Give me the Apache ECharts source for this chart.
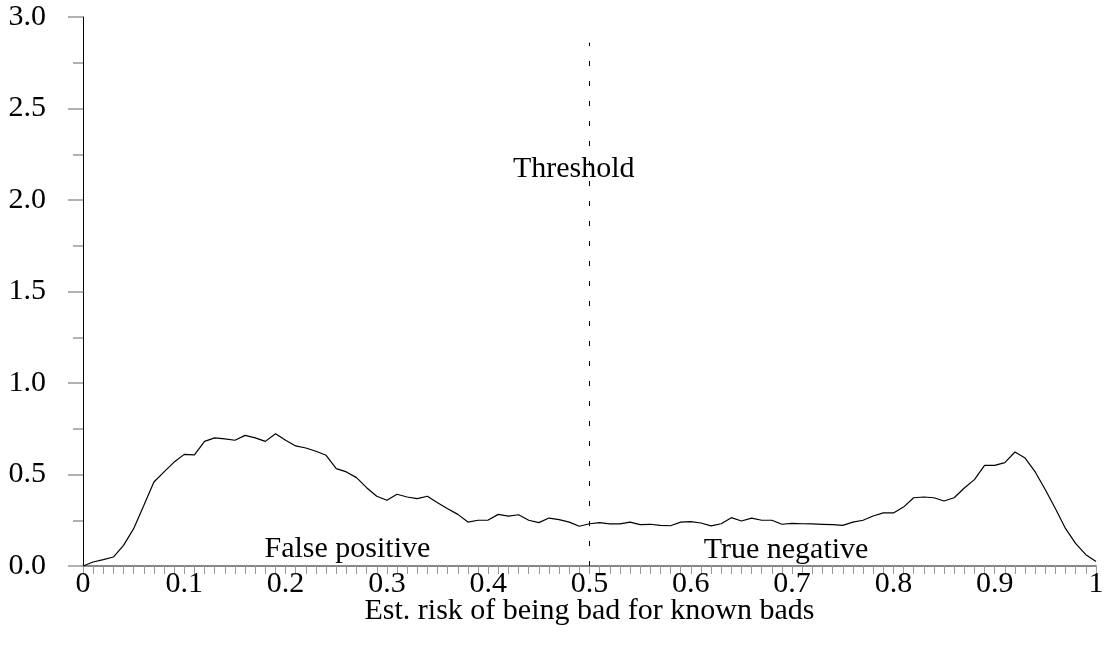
<!DOCTYPE html>
<html>
<head>
<meta charset="utf-8">
<script src="https://cdn.jsdelivr.net/npm/echarts@6/dist/echarts.min.js"></script>
<style>
    html, body { margin: 0; padding: 0; background: #fff; }
    #echarts-risk-chart { width: 1108px; height: 650px; }
</style>
</head>
<body>
<div id="echarts-risk-chart"></div>
<script>
var riskX = [0, 0.01, 0.02, 0.03, 0.04, 0.05, 0.06, 0.07, 0.08, 0.09,
    0.1, 0.11, 0.12, 0.13, 0.14, 0.15, 0.16, 0.17, 0.18, 0.19,
    0.2, 0.21, 0.22, 0.23, 0.24, 0.25, 0.26, 0.27, 0.28, 0.29,
    0.3, 0.31, 0.32, 0.33, 0.34, 0.35, 0.36, 0.37, 0.38, 0.39,
    0.4, 0.41, 0.42, 0.43, 0.44, 0.45, 0.46, 0.47, 0.48, 0.49,
    0.5, 0.51, 0.52, 0.53, 0.54, 0.55, 0.56, 0.57, 0.58, 0.59,
    0.6, 0.61, 0.62, 0.63, 0.64, 0.65, 0.66, 0.67, 0.68, 0.69,
    0.7, 0.71, 0.72, 0.73, 0.74, 0.75, 0.76, 0.77, 0.78, 0.79,
    0.8, 0.81, 0.82, 0.83, 0.84, 0.85, 0.86, 0.87, 0.88, 0.89,
    0.9, 0.91, 0.92, 0.93, 0.94, 0.95, 0.96, 0.97, 0.98, 0.99, 1];

var density = [0, 0.022, 0.035, 0.049, 0.113, 0.204, 0.33, 0.459, 0.514, 0.568,
    0.61, 0.607, 0.681, 0.70, 0.695, 0.687, 0.714, 0.70, 0.681, 0.723,
    0.687, 0.656, 0.645, 0.627, 0.605, 0.532, 0.514, 0.483, 0.428, 0.381,
    0.359, 0.392, 0.377, 0.368, 0.381, 0.346, 0.313, 0.282, 0.240, 0.25,
    0.251, 0.282, 0.273, 0.28, 0.25, 0.237, 0.262, 0.253, 0.240, 0.217,
    0.231, 0.237, 0.23, 0.23, 0.24, 0.226, 0.228, 0.222, 0.22, 0.24,
    0.242, 0.235, 0.219, 0.231, 0.264, 0.246, 0.262, 0.25, 0.25, 0.228,
    0.233, 0.231, 0.23, 0.228, 0.226, 0.222, 0.24, 0.25, 0.273, 0.29,
    0.29, 0.322, 0.373, 0.377, 0.373, 0.355, 0.373, 0.426, 0.472, 0.55,
    0.55, 0.565, 0.623, 0.59, 0.514, 0.417, 0.313, 0.204, 0.122, 0.062, 0.025];

var threshold = 0.5;
var thresholdTop = 2.86;

var notes = [
    {name: 'Threshold', x: 0.4845, y: 2.17},
    {name: 'False positive', x: 0.261, y: 0.092},
    {name: 'True negative', x: 0.694, y: 0.088}
];

var xTitle = 'Est. risk of being bad for known bads';

var font = 'Liberation Serif';

var riskChart = echarts.init(document.getElementById('echarts-risk-chart'));

var points = [];
for (var i = 0; i < riskX.length; i++) {
    points.push([riskX[i], density[i]]);
}

var noteData = [];
for (var j = 0; j < notes.length; j++) {
    noteData.push({name: notes[j].name, coord: [notes[j].x, notes[j].y]});
}

var option = {
    animation: false,
    grid: {
        left: 83,
        right: 12,
        top: 17,
        bottom: 84
    },
    xAxis: {
        type: 'value',
        min: 0,
        max: 1,
        interval: 0.1,
        name: xTitle,
        nameLocation: 'middle',
        nameGap: 30,
        nameMoveOverlap: false,
        nameTextStyle: {color: '#000', fontFamily: font, fontSize: 30},
        axisLine: {lineStyle: {color: '#888', width: 2}},
        axisTick: {show: true, length: 8, lineStyle: {color: '#999', width: 1}},
        minorTick: {show: true, splitNumber: 10, length: 8, lineStyle: {color: '#999', width: 1}},
        splitLine: {show: false},
        axisLabel: {
            color: '#000',
            fontFamily: font,
            fontSize: 30,
            margin: 3,
            formatter: function (v) {
                if (v === 0) return '0';
                if (v === 1) return '1';
                return v.toFixed(1);
            }
        }
    },
    yAxis: {
        type: 'value',
        min: 0,
        max: 3,
        interval: 0.5,
        offset: 5,
        axisLine: {show: true, lineStyle: {color: '#000', width: 1}},
        axisTick: {show: true, length: 15, lineStyle: {color: '#999', width: 1.5}},
        minorTick: {show: true, splitNumber: 2, length: 10, lineStyle: {color: '#999', width: 1.5}},
        splitLine: {show: false},
        axisLabel: {
            color: '#000',
            fontFamily: font,
            fontSize: 30,
            margin: 32,
            formatter: function (v) { return v.toFixed(1); }
        }
    },
    series: [
        {
            type: 'line',
            data: points,
            showSymbol: false,
            lineStyle: {color: '#000', width: 1.2},
            markLine: {
                silent: true,
                symbol: 'none',
                label: {show: false},
                lineStyle: {color: '#000', width: 1, type: [5, 15]},
                data: [
                    [{coord: [threshold, 0]}, {coord: [threshold, thresholdTop]}]
                ]
            },
            markPoint: {
                silent: true,
                symbol: 'circle',
                symbolSize: 0,
                label: {
                    show: true,
                    position: 'inside',
                    color: '#000',
                    fontFamily: font,
                    fontSize: 30,
                    formatter: '{b}'
                },
                data: noteData
            }
        }
    ]
};

riskChart.setOption(option);
window.onresize = riskChart.resize;
</script>
</body>
</html>
